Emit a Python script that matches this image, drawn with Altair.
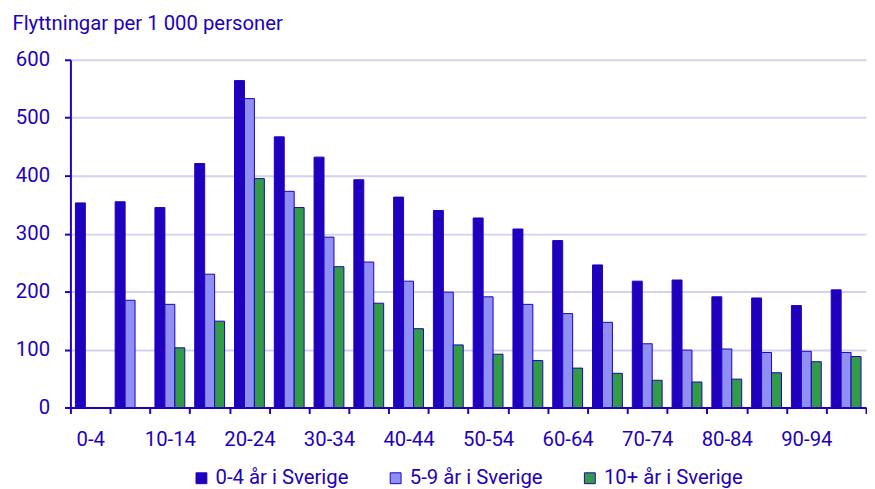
import altair as alt
import pandas as pd

groups = ["0-4", "5-9", "10-14", "15-19", "20-24", "25-29", "30-34", "35-39",
          "40-44", "45-49", "50-54", "55-59", "60-64", "65-69", "70-74",
          "75-79", "80-84", "85-89", "90-94", "95+"]
series = ["0-4 år i Sverige", "5-9 år i Sverige", "10+ år i Sverige"]
s1 = [353, 355, 345, 421, 564, 467, 432, 393, 363, 340, 327, 308, 288, 246,
      218, 220, 191, 189, 176, 203]
s2 = [None, 185, 178, 230, 533, 373, 294, 251, 218, 199, 191, 178, 162, 147,
      110, 99, 101, 95, 97, 95]
s3 = [None, None, 103, 149, 395, 345, 243, 180, 136, 108, 92, 81, 68, 59,
      47, 44, 49, 60, 79, 88]
colors = ["#1E00BE", "#8F8FF5", "#329B46"]
shown_labels = groups[::2]
title_text = "Flyttningar per 1 000 personer"

rows = []
for name, vals in zip(series, [s1, s2, s3]):
    for g, v in zip(groups, vals):
        if v is not None:
            rows.append({"grupp": g, "serie": name, "varde": v})
df = pd.DataFrame(rows)

TXT = "#1E00BE"
FONT = "Roboto"
FS = 20.5
label_arr = "[" + ",".join("'" + l + "'" for l in shown_labels) + "]"

chart = alt.Chart(df).mark_bar(stroke="#1E00BE", strokeWidth=1).encode(
    x=alt.X("grupp:N", sort=groups,
            scale=alt.Scale(domain=groups, paddingInner=0, paddingOuter=0),
            axis=alt.Axis(title=None, labelAngle=0, tickBand="extent",
                          labelExpr="indexof(" + label_arr + ", datum.label) >= 0 ? datum.label : ''",
                          domainColor=TXT, tickColor=TXT, domainWidth=2, tickWidth=2,
                          tickSize=6, labelPadding=16, labelFontSize=FS,
                          labelColor=TXT, labelFont=FONT, grid=False)),
    xOffset=alt.XOffset("serie:N", sort=series,
                        scale=alt.Scale(domain=series, paddingInner=0, paddingOuter=0.5)),
    y=alt.Y("varde:Q",
            scale=alt.Scale(domain=[0, 600], nice=False),
            axis=alt.Axis(values=[0, 100, 200, 300, 400, 500, 600],
                          title=title_text, titleAngle=0, titleAlign="left",
                          titleBaseline="alphabetic", titleX=-59, titleY=-31,
                          titleFontSize=FS, titleFontWeight="normal",
                          titleColor=TXT, titleFont=FONT,
                          domainColor=TXT, tickColor=TXT, domainWidth=2, tickWidth=2,
                          tickSize=6, labelPadding=15, labelFontSize=FS,
                          labelColor=TXT, labelFont=FONT,
                          gridColor="#D2D2F0", gridWidth=2)),
    color=alt.Color("serie:N", sort=series,
                    scale=alt.Scale(domain=series, range=colors),
                    legend=alt.Legend(title=None, orient="none", direction="horizontal",
                                      legendX=122, legendY=412, columns=3,
                                      symbolType="square", symbolSize=120,
                                      symbolStrokeColor="#1E00BE", symbolStrokeWidth=1,
                                      labelFontSize=FS, labelColor=TXT, labelFont=FONT,
                                      labelOffset=4, columnPadding=37)),
).properties(
    width=803, height=351,
    autosize=alt.AutoSizeParams(type="none"),
    padding={"left": 63, "top": 50, "right": 1, "bottom": 80},
).configure_view(stroke=None)

chart.save("out.html", embed_options={"renderer": "svg", "actions": False})
